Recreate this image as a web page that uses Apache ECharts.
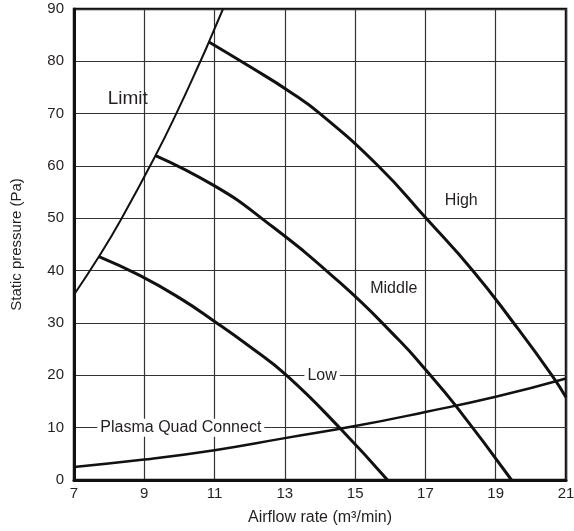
<!DOCTYPE html>
<html>
<head>
<meta charset="utf-8">
<script src="https://cdn.jsdelivr.net/npm/echarts@6/dist/echarts.min.js"></script>
<style>html,body{margin:0;padding:0;background:#fff}#c{width:574px;height:531px}</style>
</head>
<body>
<div id="c"></div>
<script>
// Data (x: airflow m3/min, y: static pressure Pa)
const xTicks = [7, 9, 11, 13, 15, 17, 19, 21];
const yTicks = [0, 10, 20, 30, 40, 50, 60, 70, 80, 90];

const limitX = [7.0, 7.71, 8.33, 9.32, 9.91, 10.63, 10.84, 11.24];
const limitY = [35.4, 42.7, 49.7, 62.0, 70.0, 80.5, 83.7, 90.0];

const highX = [10.84, 12.0, 13.14, 14.0, 15.66, 17.02, 18.35, 19.51, 20.6, 21.0];
const highY = [83.7, 79.0, 74.2, 70.0, 60.0, 50.0, 40.0, 30.0, 20.0, 15.8];

const middleX = [9.32, 11.0, 12.34, 14.57, 16.28, 17.0, 17.85, 19.45];
const middleY = [62.0, 56.2, 50.0, 37.7, 26.5, 21.1, 14.3, 0.0];

const lowX = [7.71, 8.87, 10.0, 11.0, 12.0, 13.05, 14.57, 15.92];
const lowY = [42.7, 39.1, 34.8, 30.3, 25.5, 20.0, 9.9, 0.0];

const systemX = [7, 9, 11, 13, 15, 17, 19, 21];
const systemY = [2.5, 3.9, 5.7, 8.0, 10.3, 13.0, 15.9, 19.4];

const labelNames = ['Limit', 'High', 'Middle', 'Low', 'Plasma Quad Connect'];
const labelX = [8.53, 18.02, 16.1, 14.06, 10.04];
const labelY = [72.8, 53.4, 36.6, 20.0, 10.0];

const zip = (xs, ys) => xs.map((x, i) => [x, ys[i]]);

const chart = echarts.init(document.getElementById('c'), null, {renderer: 'canvas'});
const font = 'Liberation Sans, Arial, sans-serif';
const txt = '#231f20';

function curve(name, xs, ys, w) {
  return {
    name, type: 'line', data: zip(xs, ys), smooth: 0.5,
    showSymbol: false, symbol: 'none',
    lineStyle: {color: '#111', width: w}, z: 5, silent: true
  };
}

const labelData = labelNames.map((n, i) => {
  const item = {value: [labelX[i], labelY[i]], name: n};
  const onGrid = (n === 'Low' || n === 'Plasma Quad Connect');
  item.label = {
    fontSize: n === 'Limit' ? 19 : 16,
    color: txt,
    backgroundColor: onGrid ? '#fff' : 'transparent',
    padding: onGrid ? [1, 3] : 0
  };
  return item;
});

chart.setOption({
  animation: false,
  backgroundColor: '#fff',
  grid: {left: 74, right: 8, top: 9, bottom: 51, outerBoundsMode: 'none', containLabel: false,
         show: true, borderColor: '#111', borderWidth: 2.5, backgroundColor: 'transparent'},
  xAxis: {
    type: 'value', min: 7, max: 21, interval: 2,
    name: 'Airflow rate (m³/min)', nameLocation: 'middle', nameGap: 30,
    nameTextStyle: {fontFamily: font, fontSize: 16, color: txt},
    axisLine: {show: true, lineStyle: {color: '#111', width: 3}},
    axisTick: {show: false},
    axisLabel: {fontFamily: font, fontSize: 15, color: txt, margin: 6, formatter: v => xTicks.includes(v) ? String(v) : ''},
    splitLine: {show: true, lineStyle: {color: '#333', width: 1.2}}
  },
  yAxis: {
    type: 'value', min: 0, max: 90, interval: 10,
    name: 'Static pressure (Pa)', nameLocation: 'middle', nameGap: 50,
    nameTextStyle: {fontFamily: font, fontSize: 15, color: txt},
    axisLine: {show: true, lineStyle: {color: '#111', width: 3}},
    axisTick: {show: false},
    axisLabel: {fontFamily: font, fontSize: 15, color: txt, margin: 10, formatter: v => yTicks.includes(v) ? String(v) : ''},
    splitLine: {show: true, lineStyle: {color: '#333', width: 1.2}}
  },
  series: [
    {
      name: 'labels', type: 'scatter', data: labelData, symbolSize: 0, z: 4, silent: true,
      itemStyle: {opacity: 1},
      label: {show: true, position: 'inside', formatter: p => p.name, fontFamily: font, color: txt, opacity: 1}
    },
    curve('Limit', limitX, limitY, 2),
    curve('High', highX, highY, 3),
    curve('Middle', middleX, middleY, 3),
    curve('Low', lowX, lowY, 3),
    curve('Plasma Quad Connect', systemX, systemY, 2.5)
  ]
});
</script>
</body>
</html>
